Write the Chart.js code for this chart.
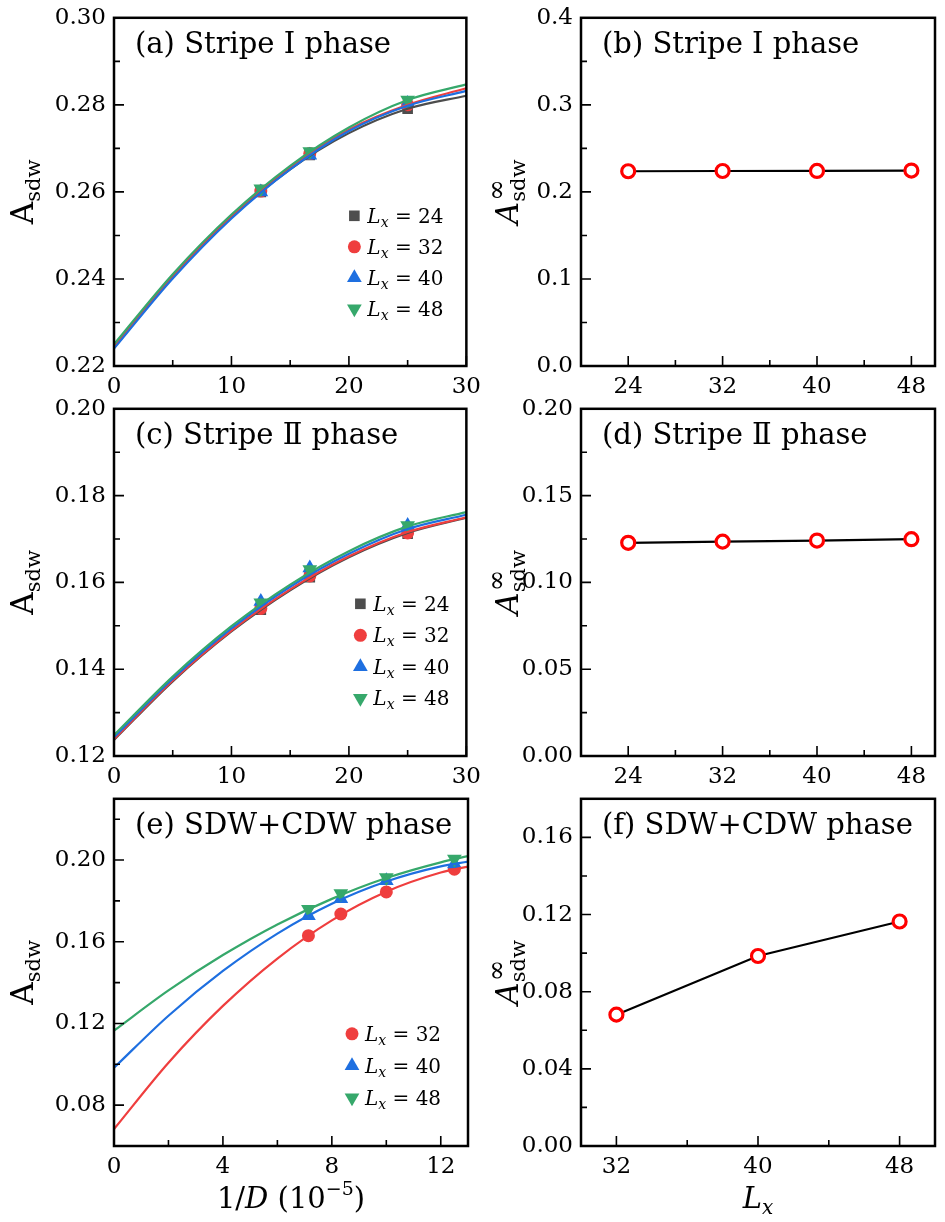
<!DOCTYPE html>
<html>
<head>
<meta charset="utf-8">
<script src="https://cdn.jsdelivr.net/npm/chart.js@4.4.1/dist/chart.umd.min.js"></script>
<style>
  html, body { margin: 0; padding: 0; background: #fff; }
  #fig { position: relative; width: 945px; height: 1222px; overflow: hidden; background: #fff; }
  #fig canvas { position: absolute; }
</style>
</head>
<body>
<div id="fig">
  <canvas id="pa"></canvas>
  <canvas id="pb"></canvas>
  <canvas id="pc"></canvas>
  <canvas id="pd"></canvas>
  <canvas id="pe"></canvas>
  <canvas id="pf"></canvas>
</div>
<script>
/* ---------- data ---------- */
// left column: x = 1/D in units of 1e-5
const invD_stripe = [12.5, 16.67, 25];
const invD_fitStripe = [0, 5, 10, 15, 20, 25, 30];
const invD_sdw = [7.14, 8.33, 10, 12.5];
const invD_fitSdw = [0, 2, 4, 6, 8, 10, 12, 13];

// (a) stripe I
const a_Lx24 = [0.2600, 0.2685, 0.2791];
const a_Lx32 = [0.2602, 0.2688, 0.2800];
const a_Lx40 = [0.2600, 0.2684, 0.2803];
const a_Lx48 = [0.2607, 0.2693, 0.2811];
const a_fit24 = [0.2242, 0.2405, 0.2542, 0.2652, 0.2735, 0.2791, 0.2821];
const a_fit32 = [0.2245, 0.2407, 0.2545, 0.2657, 0.2743, 0.2800, 0.2838];
const a_fit40 = [0.2240, 0.2401, 0.2539, 0.2652, 0.2740, 0.2798, 0.2832];
const a_fit48 = [0.2250, 0.2411, 0.2548, 0.2660, 0.2748, 0.2811, 0.2847];

// (c) stripe II
const c_Lx24 = [0.1537, 0.1612, 0.1712];
const c_Lx32 = [0.1540, 0.1615, 0.1714];
const c_Lx40 = [0.1556, 0.1633, 0.1731];
const c_Lx48 = [0.1553, 0.1630, 0.1731];
const c_fit24 = [0.1237, 0.1372, 0.1487, 0.1582, 0.1658, 0.1714, 0.1749];
const c_fit32 = [0.1239, 0.1374, 0.1489, 0.1584, 0.1660, 0.1716, 0.1750];
const c_fit40 = [0.1243, 0.1378, 0.1494, 0.1590, 0.1666, 0.1723, 0.1756];
const c_fit48 = [0.1248, 0.1383, 0.1499, 0.1595, 0.1672, 0.1729, 0.1762];

// (e) SDW+CDW
const e_Lx32 = [0.1630, 0.1736, 0.1844, 0.1955];
const e_Lx40 = [0.1727, 0.1811, 0.1899, 0.1981];
const e_Lx48 = [0.1759, 0.1836, 0.1915, 0.2005];
const e_fit32 = [0.0683, 0.1008, 0.1286, 0.1518, 0.1705, 0.1845, 0.1939, 0.1968];
const e_fit40 = [0.0983, 0.1238, 0.1457, 0.1640, 0.1786, 0.1895, 0.1969, 0.1992];
const e_fit48 = [0.1165, 0.1362, 0.1535, 0.1685, 0.1810, 0.1912, 0.1989, 0.2019];

// right column: extrapolated A_sdw vs Lx
const lx_stripe = [24, 32, 40, 48];
const b_inf = [0.2237, 0.2240, 0.2241, 0.2245];
const d_inf = [0.1228, 0.1235, 0.1241, 0.1249];
const lx_sdw = [32, 40, 48];
const f_inf = [0.0681, 0.0985, 0.1164];

// ticks
const yt_a = [0.22, 0.24, 0.26, 0.28, 0.30], ym_a = [0.23, 0.25, 0.27, 0.29];
const yt_b = [0, 0.1, 0.2, 0.3, 0.4], ym_b = [0.05, 0.15, 0.25, 0.35];
const yt_c = [0.12, 0.14, 0.16, 0.18, 0.20], ym_c = [0.13, 0.15, 0.17, 0.19];
const yt_d = [0, 0.05, 0.10, 0.15, 0.20], ym_d = [0.025, 0.075, 0.125, 0.175];
const yt_e = [0.08, 0.12, 0.16, 0.20], ym_e = [0.10, 0.14, 0.18, 0.22];
const yt_f = [0, 0.04, 0.08, 0.12, 0.16], ym_f = [0.02, 0.06, 0.10, 0.14];
const xt_stripe = [0, 10, 20, 30], xm_stripe = [5, 15, 25];
const xt_sdw = [0, 4, 8, 12], xm_sdw = [2, 6, 10];
const xt_lx4 = [24, 32, 40, 48], xm_lx4 = [28, 36, 44];
const xt_lx3 = [32, 40, 48], xm_lx3 = [36, 44];

/* ---------- styles ---------- */
const SERIF = '"DejaVu Serif", "Liberation Serif", serif';
const COLORS = { 24: '#4d4d4d', 32: '#ef3e3e', 40: '#1e6fe0', 48: '#36a86b' };
const MARK = {
  24: { pointStyle: 'rect', radius: 7.5, rotation: 0 },
  32: { pointStyle: 'circle', radius: 6.5, rotation: 0 },
  40: { pointStyle: 'triangle', radius: 8.5, rotation: 0 },
  48: { pointStyle: 'triangle', radius: 8.5, rotation: 180 }
};

const LEFT_MARGIN = 114, TOP_PAD = 16, RIGHT_PAD = 20, X_AXIS_H = 76;

Chart.defaults.font.family = SERIF;
Chart.defaults.color = '#000';

/* ---------- helpers ---------- */
const pts = (xs, ys) => xs.map((x, i) => ({ x, y: ys[i] }));

function markerSet(xs, ys, lx) {
  const m = MARK[lx];
  return {
    data: pts(xs, ys), showLine: false,
    pointStyle: m.pointStyle, pointRadius: m.radius, pointRotation: m.rotation,
    pointBackgroundColor: COLORS[lx], pointBorderWidth: 0, order: 20 - lx / 8
  };
}

function fitSet(xs, ys, lx) {
  return {
    data: pts(xs, ys), showLine: true, pointRadius: 0,
    borderColor: COLORS[lx], borderWidth: 2.2, fill: false,
    cubicInterpolationMode: 'monotone', order: 10 - lx / 8
  };
}

function infSet(xs, ys) {
  return {
    data: pts(xs, ys), showLine: true, borderColor: '#000', borderWidth: 2.2, tension: 0,
    pointStyle: 'circle', pointRadius: 6.5, pointBorderWidth: 3.2,
    pointBorderColor: '#ff0000', pointBackgroundColor: '#fff'
  };
}

function fontOf(p) {
  return (p.it ? 'italic ' : '') + p.sz + 'px ' + SERIF;
}

// draw a run of text pieces (sub/superscripts via dy)
function drawRich(ctx, parts, x, y, align) {
  let total = 0;
  parts.forEach(p => {
    ctx.font = fontOf(p);
    p.w = ctx.measureText(p.t).width;
    if (!p.stay) total += p.w;
  });
  let cx = align === 'center' ? x - total / 2 : x;
  ctx.textAlign = 'left';
  ctx.textBaseline = 'alphabetic';
  parts.forEach(p => {
    ctx.font = fontOf(p);
    ctx.fillText(p.t, cx + (p.dx || 0), y + (p.dy || 0));
    if (!p.stay) cx += p.w;
  });
}

function drawMarker(ctx, m, x, y) {
  if (Chart.helpers && Chart.helpers.drawPoint) {
    Chart.helpers.drawPoint(ctx, { pointStyle: m.pointStyle, rotation: m.rotation, radius: m.radius, borderWidth: 0 }, x, y);
    return;
  }
  ctx.beginPath();
  ctx.arc(x, y, m.radius, 0, Math.PI * 2);
  ctx.fill();
}

const Y_PLAIN = [{ t: 'A', sz: 31 }, { t: 'sdw', sz: 21, dy: 7 }];
const Y_INF = [{ t: 'A', sz: 31, it: true }, { t: '\u221e', sz: 26, dy: -13, dx: 1, stay: true }, { t: 'sdw', sz: 21, dy: 7 }];
const X_INVD = [{ t: '1/', sz: 29 }, { t: 'D', sz: 29, it: true }, { t: ' (10', sz: 29 }, { t: '\u22125', sz: 19, dy: -13 }, { t: ')', sz: 29 }];
const X_LX = [{ t: 'L', sz: 29, it: true }, { t: 'x', sz: 20, it: true, dy: 6 }];

function decor(cfg) {
  return {
    id: 'decor',
    afterDraw(chart) {
      const { ctx, chartArea: ca, scales } = chart;
      const xs = scales.x, ys = scales.y;
      ctx.save();

      // inward ticks on left and bottom
      ctx.strokeStyle = '#000';
      ctx.lineWidth = 1.6;
      ctx.beginPath();
      const tickY = (vals, len) => vals.forEach(v => {
        const p = ys.getPixelForValue(v);
        ctx.moveTo(ca.left, p); ctx.lineTo(ca.left + len, p);
      });
      const tickX = (vals, len) => vals.forEach(v => {
        const p = xs.getPixelForValue(v);
        ctx.moveTo(p, ca.bottom); ctx.lineTo(p, ca.bottom - len);
      });
      tickY(cfg.yMajor, 10); tickY(cfg.yMinor, 6);
      tickX(cfg.xMajor, 10); tickX(cfg.xMinor, 6);
      ctx.stroke();

      // frame
      ctx.lineWidth = 2.5;
      ctx.strokeRect(ca.left, ca.top, ca.right - ca.left, ca.bottom - ca.top);

      // panel title
      ctx.fillStyle = '#000';
      ctx.font = '29px ' + SERIF;
      ctx.textAlign = 'left';
      ctx.textBaseline = 'middle';
      ctx.fillText(cfg.title, ca.left + 21, ca.top + 28);

      // legend
      if (cfg.legend) {
        const lg = cfg.legend;
        lg.items.forEach((lx, i) => {
          const cy = ca.top + lg.dy + i * lg.step;
          const mx = ca.right + lg.dx;
          ctx.fillStyle = COLORS[lx];
          drawMarker(ctx, MARK[lx], mx, cy);
          ctx.fillStyle = '#000';
          drawRich(ctx, [
            { t: 'L', sz: 20, it: true }, { t: 'x', sz: 14, it: true, dy: 4 },
            { t: ' = ', sz: 20 }, { t: String(lx), sz: 20 }
          ], mx + 13, cy + 7, 'left');
        });
      }

      // y title (rotated)
      ctx.save();
      ctx.translate(ca.left + cfg.yTitleDx, (ca.top + ca.bottom) / 2);
      ctx.rotate(-Math.PI / 2);
      drawRich(ctx, cfg.yTitle, 0, 0, 'center');
      ctx.restore();

      // x title
      if (cfg.xTitle) drawRich(ctx, cfg.xTitle, (ca.left + ca.right) / 2, ca.bottom + 62, 'center');

      ctx.restore();
    }
  };
}

function makePanel(id, area, cfg) {
  const cv = document.getElementById(id);
  cv.width = area.r - area.l + LEFT_MARGIN + RIGHT_PAD;
  cv.height = area.b - area.t + TOP_PAD + X_AXIS_H;
  cv.style.left = (area.l - LEFT_MARGIN) + 'px';
  cv.style.top = (area.t - TOP_PAD) + 'px';

  const tickFont = { family: SERIF, size: 23 };
  return new Chart(cv, {
    type: 'scatter',
    data: { datasets: cfg.datasets },
    options: {
      responsive: false,
      animation: false,
      events: [],
      layout: { padding: { left: 0, top: TOP_PAD, right: RIGHT_PAD, bottom: 0 } },
      plugins: { legend: { display: false }, tooltip: { enabled: false } },
      scales: {
        x: {
          type: 'linear', min: cfg.xMin, max: cfg.xMax,
          grid: { display: false, drawTicks: false }, border: { display: false },
          afterBuildTicks: s => { s.ticks = cfg.xMajor.map(v => ({ value: v })); },
          afterFit: s => { s.height = X_AXIS_H; },
          ticks: { padding: 7, font: tickFont, color: '#000', maxRotation: 0, autoSkip: false, callback: v => String(v) }
        },
        y: {
          type: 'linear', min: cfg.yMin, max: cfg.yMax,
          grid: { display: false, drawTicks: false }, border: { display: false },
          afterBuildTicks: s => { s.ticks = cfg.yMajor.map(v => ({ value: v })); },
          afterFit: s => { s.width = LEFT_MARGIN; },
          ticks: { padding: 8, font: tickFont, color: '#000', autoSkip: false, callback: v => Number(v).toFixed(cfg.yDec) }
        }
      }
    },
    plugins: [decor(cfg)]
  });
}

/* ---------- panels ---------- */
makePanel('pa', { l: 114, t: 12, r: 468, b: 366 }, {
  title: '(a) Stripe I phase',
  xMin: 0, xMax: 30, xMajor: xt_stripe, xMinor: xm_stripe,
  yMin: 0.22, yMax: 0.30, yMajor: yt_a, yMinor: ym_a, yDec: 2,
  yTitle: Y_PLAIN, yTitleDx: -81,
  legend: { items: [24, 32, 40, 48], dx: -112, dy: 198, step: 31 },
  datasets: [
    fitSet(invD_fitStripe, a_fit24, 24), fitSet(invD_fitStripe, a_fit32, 32),
    fitSet(invD_fitStripe, a_fit40, 40), fitSet(invD_fitStripe, a_fit48, 48),
    markerSet(invD_stripe, a_Lx24, 24), markerSet(invD_stripe, a_Lx32, 32),
    markerSet(invD_stripe, a_Lx40, 40), markerSet(invD_stripe, a_Lx48, 48)
  ]
});

makePanel('pb', { l: 581, t: 12, r: 935, b: 366 }, {
  title: '(b) Stripe I phase',
  xMin: 20, xMax: 50, xMajor: xt_lx4, xMinor: xm_lx4,
  yMin: 0, yMax: 0.4, yMajor: yt_b, yMinor: ym_b, yDec: 1,
  yTitle: Y_INF, yTitleDx: -63,
  datasets: [infSet(lx_stripe, b_inf)]
});

makePanel('pc', { l: 114, t: 403, r: 468, b: 756 }, {
  title: '(c) Stripe \u2161 phase',
  xMin: 0, xMax: 30, xMajor: xt_stripe, xMinor: xm_stripe,
  yMin: 0.12, yMax: 0.20, yMajor: yt_c, yMinor: ym_c, yDec: 2,
  yTitle: Y_PLAIN, yTitleDx: -81,
  legend: { items: [24, 32, 40, 48], dx: -106, dy: 195, step: 31.5 },
  datasets: [
    fitSet(invD_fitStripe, c_fit24, 24), fitSet(invD_fitStripe, c_fit32, 32),
    fitSet(invD_fitStripe, c_fit40, 40), fitSet(invD_fitStripe, c_fit48, 48),
    markerSet(invD_stripe, c_Lx24, 24), markerSet(invD_stripe, c_Lx32, 32),
    markerSet(invD_stripe, c_Lx40, 40), markerSet(invD_stripe, c_Lx48, 48)
  ]
});

makePanel('pd', { l: 581, t: 403, r: 935, b: 756 }, {
  title: '(d) Stripe \u2161 phase',
  xMin: 20, xMax: 50, xMajor: xt_lx4, xMinor: xm_lx4,
  yMin: 0, yMax: 0.2, yMajor: yt_d, yMinor: ym_d, yDec: 2,
  yTitle: Y_INF, yTitleDx: -63,
  datasets: [infSet(lx_stripe, d_inf)]
});

makePanel('pe', { l: 114, t: 793, r: 468, b: 1146 }, {
  title: '(e) SDW+CDW phase',
  xMin: 0, xMax: 13, xMajor: xt_sdw, xMinor: xm_sdw,
  yMin: 0.06, yMax: 0.23, yMajor: yt_e, yMinor: ym_e, yDec: 2,
  yTitle: Y_PLAIN, yTitleDx: -81,
  xTitle: X_INVD,
  legend: { items: [32, 40, 48], dx: -116, dy: 235, step: 32 },
  datasets: [
    fitSet(invD_fitSdw, e_fit32, 32), fitSet(invD_fitSdw, e_fit40, 40), fitSet(invD_fitSdw, e_fit48, 48),
    markerSet(invD_sdw, e_Lx32, 32), markerSet(invD_sdw, e_Lx40, 40), markerSet(invD_sdw, e_Lx48, 48)
  ]
});

makePanel('pf', { l: 581, t: 793, r: 935, b: 1146 }, {
  title: '(f) SDW+CDW phase',
  xMin: 30, xMax: 50, xMajor: xt_lx3, xMinor: xm_lx3,
  yMin: 0, yMax: 0.18, yMajor: yt_f, yMinor: ym_f, yDec: 2,
  yTitle: Y_INF, yTitleDx: -63,
  xTitle: X_LX,
  datasets: [infSet(lx_sdw, f_inf)]
});
</script>
</body>
</html>
